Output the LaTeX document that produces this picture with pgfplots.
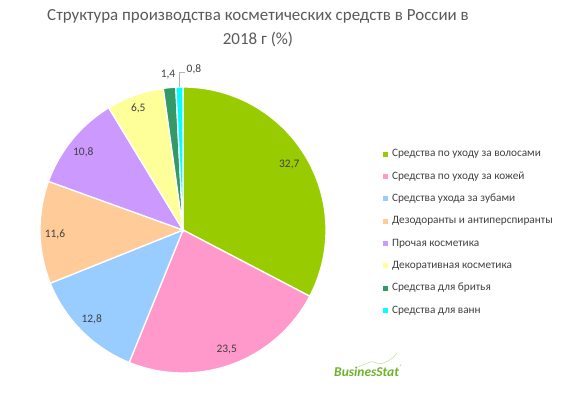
\documentclass[border=0pt]{standalone}
\usepackage{fontspec}
\setmainfont{Carlito}
\usepackage{pgfplots}
\pgfplotsset{compat=1.18}
\definecolor{c1}{HTML}{99CC00}
\definecolor{c2}{HTML}{FF99CC}
\definecolor{c3}{HTML}{99CCFF}
\definecolor{c4}{HTML}{FFCC99}
\definecolor{c5}{HTML}{CC99FF}
\definecolor{c6}{HTML}{FFFF99}
\definecolor{c7}{HTML}{339966}
\definecolor{c8}{HTML}{00FFFF}
\definecolor{txt}{HTML}{404040}
\definecolor{ttl}{HTML}{595959}
\definecolor{logo}{HTML}{6DB22B}
\begin{document}
\begin{tikzpicture}
\begin{axis}[
  scale only axis, width=573bp, height=394bp,
  xmin=0, xmax=573, ymin=0, ymax=394,
  hide axis, clip=false,
  legend cell align=left,
  legend style={at={(axis cs:383,245)}, anchor=north west, draw=none, fill=none,
    font=\fontsize{11.3}{13}\selectfont, text=txt, inner sep=0pt, outer sep=0pt,
    row sep=11.8bp, column sep=4bp,
    nodes={inner sep=0pt, text height=8bp, text depth=2.5bp}},
  legend image code/.code={\fill[#1,draw=none] (0bp,-2.5bp) rectangle (5bp,2.5bp);},
  every axis plot/.append style={draw=white, line width=1.3pt, samples=100},
]
% slices: domain = cumulative share in percent (values 32.7, 23.5, 12.8, 11.6, 10.8, 6.5, 1.4, 0.8)
\addplot[fill=c1, domain=0:32.7] ({183+143*sin(3.5964*x)},{164+143*cos(3.5964*x)}) -- (183,164) -- cycle;
\addlegendentry{Средства по уходу за волосами}
\addplot[fill=c2, domain=32.7:56.2] ({183+143*sin(3.5964*x)},{164+143*cos(3.5964*x)}) -- (183,164) -- cycle;
\addlegendentry{Средства по уходу за кожей}
\addplot[fill=c3, domain=56.2:69.0] ({183+143*sin(3.5964*x)},{164+143*cos(3.5964*x)}) -- (183,164) -- cycle;
\addlegendentry{Средства ухода за зубами}
\addplot[fill=c4, domain=69.0:80.6] ({183+143*sin(3.5964*x)},{164+143*cos(3.5964*x)}) -- (183,164) -- cycle;
\addlegendentry{Дезодоранты и антиперспиранты}
\addplot[fill=c5, domain=80.6:91.4] ({183+143*sin(3.5964*x)},{164+143*cos(3.5964*x)}) -- (183,164) -- cycle;
\addlegendentry{Прочая косметика}
\addplot[fill=c6, domain=91.4:97.9] ({183+143*sin(3.5964*x)},{164+143*cos(3.5964*x)}) -- (183,164) -- cycle;
\addlegendentry{Декоративная косметика}
\addplot[fill=c7, domain=97.9:99.3] ({183+143*sin(3.5964*x)},{164+143*cos(3.5964*x)}) -- (183,164) -- cycle;
\addlegendentry{Средства для бритья}
\addplot[fill=c8, domain=99.3:100.1] ({183+143*sin(3.5964*x)},{164+143*cos(3.5964*x)}) -- (183,164) -- cycle;
\addlegendentry{Средства для ванн}

% data labels
\begin{scope}[every node/.style={font=\fontsize{11.5}{13}\selectfont, text=txt, inner sep=0pt}]
\node at (axis cs:289.3,229) {32,7};
\node at (axis cs:226.7,44.7) {23,5};
\node at (axis cs:91.7,74.7) {12,8};
\node at (axis cs:55,160) {11,6};
\node at (axis cs:83.3,241.7) {10,8};
\node at (axis cs:138.3,285.7) {6,5};
\node at (axis cs:168,319) {1,4};
\node[anchor=west] at (axis cs:186.5,325) {0,8};
\end{scope}
\draw[gray!60, line width=0.6pt] (axis cs:179,307) -- (axis cs:179,322) -- (axis cs:185,322);

% title
\node[anchor=base, font=\fontsize{17}{22}\selectfont, text=ttl] at (axis cs:258,373.3) {Структура производства косметических средств в России в};
\node[anchor=base, font=\fontsize{17}{22}\selectfont, text=ttl] at (axis cs:258,349) {2018 г (\%)};

% logo
\draw[logo!45, line width=0.5pt] (axis cs:358,27) .. controls (axis cs:364,29) and (axis cs:369,32.5) .. (axis cs:373,32.3) .. controls (axis cs:376,32) and (axis cs:377,30) .. (axis cs:379,30) .. controls (axis cs:386,31) and (axis cs:393,35) .. (axis cs:397,41);
\node[anchor=base west, inner sep=0pt, font=\fontsize{13.5}{15}\selectfont\bfseries\itshape, text=logo] at (axis cs:334,17.3) {BusinesStat};
\node[anchor=base west, inner sep=0pt, font=\fontsize{5}{6}\selectfont, text=logo] at (axis cs:399.5,26) {\textregistered};
\end{axis}
\pgfresetboundingbox
\path (current axis.south west) rectangle (current axis.north east);
\end{tikzpicture}
\end{document}
